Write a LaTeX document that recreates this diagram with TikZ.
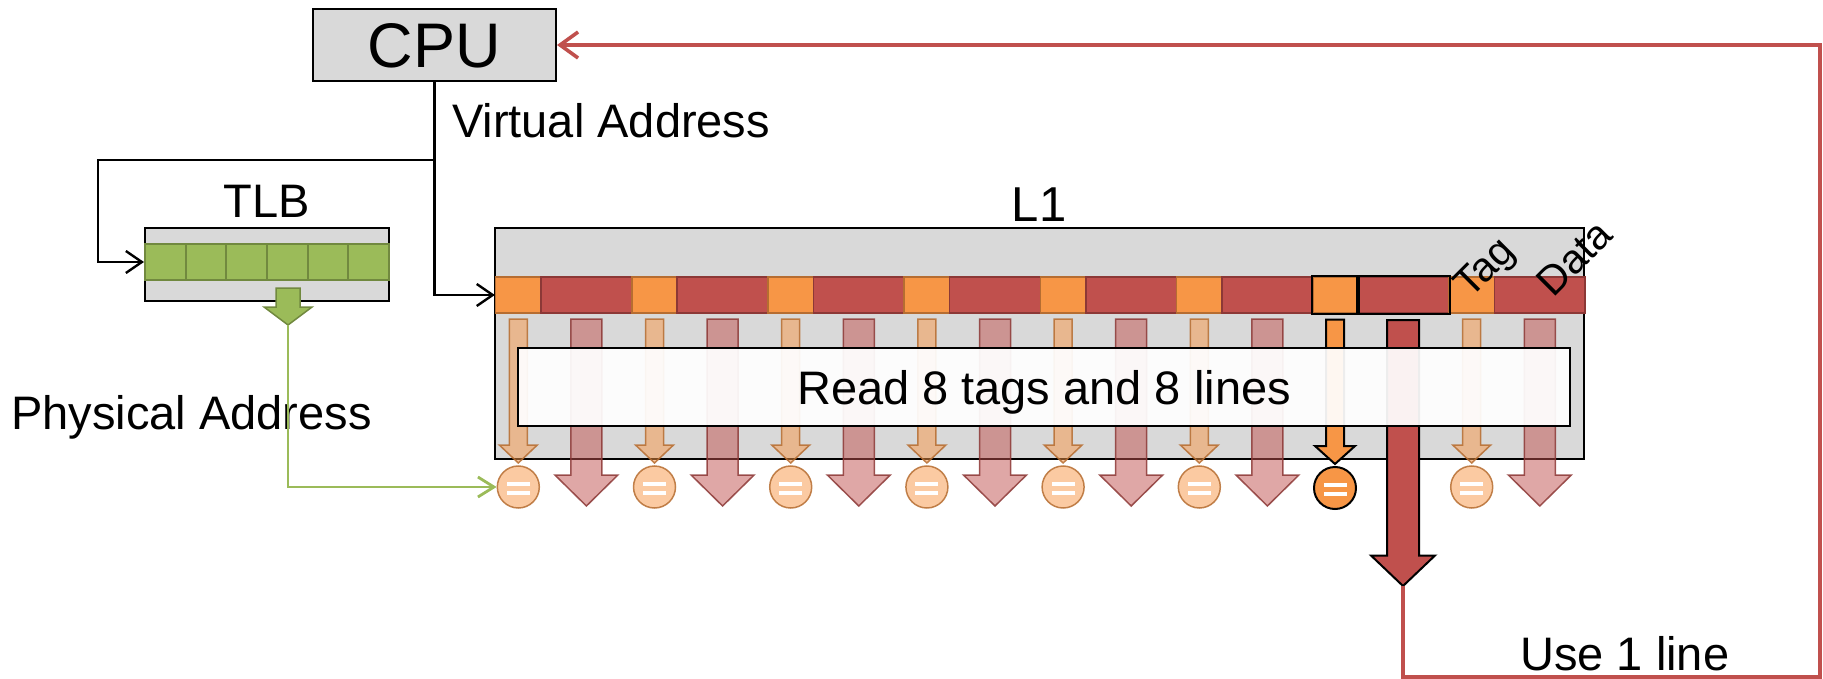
\documentclass[tikz,border=0pt]{standalone}
\usepackage{fontspec}
\setmainfont{Liberation Sans}
\usetikzlibrary{arrows.meta}

\definecolor{boxgray}{HTML}{D9D9D9}
\definecolor{tagor}{HTML}{F79646}
\definecolor{tagorline}{HTML}{B66D31}
\definecolor{datared}{HTML}{C0504D}
\definecolor{dataredline}{HTML}{8C3836}
\definecolor{tlbgreen}{HTML}{9BBB59}
\definecolor{tlbgreenline}{HTML}{71893F}

\newcommand{\lblsize}{\fontsize{47}{56}\selectfont}
\newcommand{\cpusize}{\fontsize{63}{75}\selectfont}
\newcommand{\slantsize}{\fontsize{41}{49}\selectfont}

% block arrow: centre x, top y, head start y, tip y, shaft width, head width, style
\newcommand{\blockarrow}[7]{%
  \path[#7] (#1-#5/2,#2) -- (#1+#5/2,#2) -- (#1+#5/2,#3) -- (#1+#6/2,#3)
    -- (#1,#4) -- (#1-#6/2,#3) -- (#1-#5/2,#3) -- cycle;}

\begin{document}
\begin{tikzpicture}[x=1pt,y=-1pt,
  graybox/.style={draw=black, fill=boxgray, line width=2pt, inner sep=0pt},
  tagcell/.style={draw=tagorline, fill=tagor, line width=1.5pt,
    minimum width=45.4pt, minimum height=36pt, inner sep=0pt},
  datacell/.style={draw=dataredline, fill=datared, line width=1.5pt,
    minimum width=90.8pt, minimum height=36pt, inner sep=0pt},
  greencell/.style={draw=tlbgreenline, fill=tlbgreen, line width=2pt,
    minimum width=40.67pt, minimum height=36pt, inner sep=0pt},
  fadetag/.style={fill=tagor, fill opacity=0.5, draw=tagorline, draw opacity=0.85, line width=1.5pt},
  fadedata/.style={fill=datared, fill opacity=0.5, draw=dataredline, draw opacity=0.85, line width=1.5pt},
  hitag/.style={fill=tagor, draw=black, line width=2pt},
  hidata/.style={fill=datared, draw=black, line width=2pt},
  eqfade/.style={circle, minimum size=42pt, inner sep=0pt, fill=tagor, fill opacity=0.5,
    draw=tagorline, draw opacity=0.85, line width=1.5pt},
  eqhi/.style={circle, minimum size=42pt, inner sep=0pt, fill=tagor, draw=black, line width=2pt},
  blackconn/.style={draw=black, line width=2.4pt, -{Straight Barb[length=16pt,width=22pt]}},
  greenconn/.style={draw=tlbgreen, line width=2.8pt, -{Straight Barb[length=16pt,width=20pt]}},
  redconn/.style={draw=datared, line width=3.6pt, -{Straight Barb[length=18pt,width=26pt]}},
  txt/.style={inner sep=0pt, font=\lblsize}
]
\useasboundingbox (0,0) rectangle (1823,679);

% CPU
\node[graybox, minimum width=243pt, minimum height=72pt] (cpu) at (434.5,45) {};
\node[inner sep=0pt, font=\cpusize] (cputxt) at (434.5,46) {CPU};
\node[txt, anchor=base west] (va) at (452,138) {Virtual Address};

% TLB
\node[txt, anchor=base] (tlblbl) at (267,218) {TLB};
\node[graybox, minimum width=244pt, minimum height=73pt] (tlb) at (267,264.5) {};
\foreach \j in {0,...,5}{
  \node[greencell] (g\j) at (165.33+40.67*\j,262) {};
}
\blockarrow{288}{288}{307}{325}{24}{48}{fill=tlbgreen, draw=tlbgreenline, line width=1.5pt}
\coordinate (tlbtip) at (288,325);
\node[txt, anchor=base west] (pa) at (11,429) {Physical Address};

% L1 cache
\node[txt, anchor=base] (l1lbl) at (1039,222) {\fontsize{49}{58}\selectfont L1};
\node[graybox, minimum width=1089pt, minimum height=231pt] (l1) at (1039.5,343.5) {};
\foreach \i in {0,...,7}{
  \pgfmathsetmacro\tc{518.3+136.2*\i}
  \pgfmathsetmacro\dc{586.4+136.2*\i}
  \node[tagcell] (tag\i) at (\tc,295) {};
  \node[datacell] (data\i) at (\dc,295) {};
}
\draw[black, line width=2pt] (tag6.south west) rectangle (tag6.north east);
\draw[black, line width=2pt] (data6.south west) rectangle (data6.north east);

\node[inner sep=0pt, anchor=base west, rotate=45, font=\slantsize] (taglbl) at (1470,300) {Tag};
\node[inner sep=0pt, anchor=base west, rotate=45, font=\slantsize] (datalbl) at (1553,299) {Data};

% read-out arrows
\foreach \i in {0,1,2,3,4,5,7}{
  \pgfmathsetmacro\tc{518.3+136.2*\i}
  \pgfmathsetmacro\dc{586.4+136.2*\i}
  \blockarrow{\tc}{319}{445}{463}{18}{38}{fadetag}
  \blockarrow{\dc}{319}{475}{506}{31}{63}{fadedata}
}
\blockarrow{1335}{319.5}{446}{464}{18}{40}{hitag}
\blockarrow{1403}{320}{555.5}{586}{32}{64}{hidata}
\coordinate (bigtip) at (1403,586);

\node[draw=black, line width=2pt, fill=white, fill opacity=0.93,
  minimum width=1052pt, minimum height=78pt, inner sep=0pt] (readbox) at (1044,387) {};
\node[txt, anchor=base] (readtxt) at (1044,404) {Read 8 tags and 8 lines};

% comparators
\foreach \i in {0,1,2,3,4,5,7}{
  \pgfmathsetmacro\tc{518.3+136.2*\i}
  \node[eqfade] (eq\i) at (\tc,487) {};
  \fill[white] (\tc-11.5,481.5) rectangle (\tc+11.5,486);
  \fill[white] (\tc-11.5,490.5) rectangle (\tc+11.5,495);
}
\node[eqhi] (eq6) at (1335,488) {};
\fill[white] (1335-11.5,482.5) rectangle (1335+11.5,487);
\fill[white] (1335-11.5,491.5) rectangle (1335+11.5,496);

\node[txt, anchor=base west] (use) at (1520,670) {Use 1 line};

% connectors
\coordinate (vsplit) at (434.5,160);
\coordinate (tlbleft) at (98,160);
\coordinate (rcorner) at (1820,677);
\draw[blackconn] (cpu.south) |- (tag0.west);
\draw[blackconn] (vsplit) -- (tlbleft) |- (g0.west);
\draw[greenconn] (tlbtip) |- (eq0.west);
\draw[redconn] (bigtip) |- (rcorner) |- (cpu.east);
\end{tikzpicture}
\end{document}
